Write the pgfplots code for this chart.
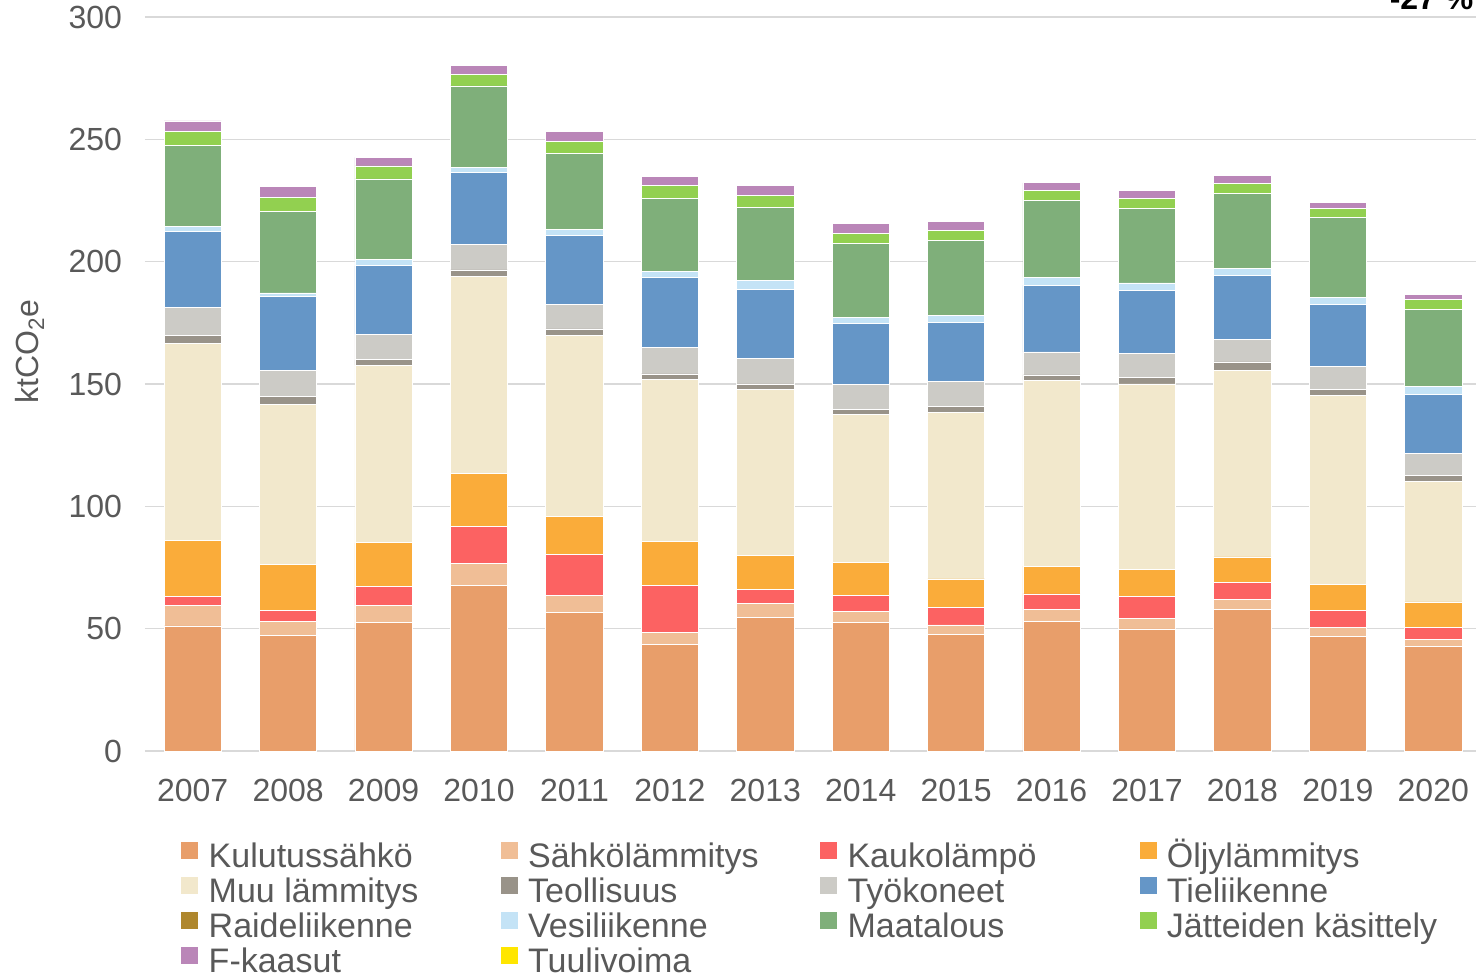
\documentclass[border=0pt]{standalone}
\usepackage{pgfplots}
\pgfplotsset{compat=1.18}
\usepackage{pgfplotstable}
\usepackage{fontspec}
\setmainfont{Liberation Sans}

\definecolor{kul}{HTML}{E89E6A}
\definecolor{sah}{HTML}{F0BE96}
\definecolor{kauko}{HTML}{FC6262}
\definecolor{oljy}{HTML}{FAAC3A}
\definecolor{muu}{HTML}{F2E8CC}
\definecolor{teol}{HTML}{999389}
\definecolor{tyok}{HTML}{CCCBC6}
\definecolor{tie}{HTML}{6596C7}
\definecolor{raide}{HTML}{AF872D}
\definecolor{vesi}{HTML}{C4E3F6}
\definecolor{maat}{HTML}{7FAF7A}
\definecolor{jatt}{HTML}{92D050}
\definecolor{fk}{HTML}{BA86B8}
\definecolor{tuuli}{HTML}{FFE600}
\definecolor{txt}{HTML}{595959}
\definecolor{grd}{HTML}{D9D9D9}

% ktCO2e per sector
\pgfplotstableread{
year kul  sah kauko oljy muu  teol tyok tie  vesi maat jatt fk
2007 51.1 8.3 3.7  23.0 80.5 3.3  11.4 31.2 1.8  33.1 5.7  4.4
2008 47.4 5.6 4.3  18.8 65.6 3.1  10.9 30.0 1.5  33.5 5.7  4.2
2009 52.6 6.8 7.7  18.0 72.6 2.2  10.4 28.0 2.5  33.0 5.3  3.5
2010 67.8 8.9 15.2 21.4 80.8 2.5  10.5 29.4 1.9  33.4 4.9  3.6
2011 56.7 6.8 16.9 15.6 73.7 2.8  9.9  28.3 2.5  31.2 4.9  4.1
2012 43.6 4.8 19.3 17.8 66.5 2.1  10.9 28.6 2.4  30.0 5.2  3.8
2013 54.6 5.7 5.9  13.6 68.0 2.2  10.3 28.4 3.7  29.9 4.6  4.3
2014 52.4 4.8 6.4  13.5 60.5 1.9  10.4 24.7 2.5  30.5 4.1  3.8
2015 47.8 3.7 7.3  11.5 68.1 2.6  9.9  24.3 3.0  30.5 4.1  3.7
2016 53.1 4.6 6.5  11.4 76.0 2.1  9.4  27.2 3.3  31.3 4.1  3.2
2017 49.9 4.2 9.0  11.0 75.9 2.6  9.9  25.8 3.0  30.3 4.2  3.3
2018 57.7 4.3 6.8  10.5 76.4 3.3  9.2  26.3 2.6  30.9 4.1  3.3
2019 46.7 3.8 6.8  10.9 77.0 2.6  9.5  25.2 3.0  32.6 3.5  2.6
2020 42.6 3.0 4.8  10.5 49.2 2.7  8.9  24.1 3.1  31.4 4.1  2.2
}\emissions

\newcommand{\lgent}[1]{\makebox[146pt][l]{#1}}

\begin{document}
\begin{tikzpicture}
\begin{axis}[
    width=668pt, height=367pt,
    scale only axis,
    ybar stacked,
    bar width=0.6,
    xmin=2006.5, xmax=2020.5,
    ymin=0, ymax=300,
    enlargelimits=false,
    xtick={2007,2008,...,2020},
    ytick={0,50,...,300},
    major tick length=0pt,
    axis line style={draw=none},
    ymajorgrids,
    grid style={grd, line width=0.8pt},
    /pgf/number format/assume math mode=true,
    xticklabel style={/pgf/number format/1000 sep={}, font=\fontsize{16}{19}\selectfont, text=txt, yshift=-10.5pt},
    yticklabel style={font=\fontsize{16}{19}\selectfont, text=txt, xshift=-8pt},
    ylabel={ktCO\textsubscript{2}e},
    every axis y label/.style={at={(rel axis cs:0,0.544)}, xshift=-57.5pt, rotate=90, anchor=center, font=\fontsize{16}{19}\selectfont, text=txt},
    every axis plot/.append style={draw=white, line width=0.4pt},
    clip=false,
    legend columns=4,
    legend cell align=left,
    legend image code/.code={\fill[#1,draw=none] (0pt,1.25pt) rectangle (8.5pt,9.75pt); \path (13.5pt,0pt);},
    legend style={at={(0.0269,-0.1235)}, anchor=north west, draw=none, fill=none, inner sep=0pt, row sep=0pt,
        nodes={inner sep=0pt, text height=10.5pt, text depth=5pt, font=\fontsize{17}{20}\selectfont, text=txt}},
]
\addplot[fill=kul]   table[x=year, y=kul]   {\emissions}; \addlegendentry{\lgent{Kulutussähkö}}
\addplot[fill=sah]   table[x=year, y=sah]   {\emissions}; \addlegendentry{\lgent{Sähkölämmitys}}
\addplot[fill=kauko] table[x=year, y=kauko] {\emissions}; \addlegendentry{\lgent{Kaukolämpö}}
\addplot[fill=oljy]  table[x=year, y=oljy]  {\emissions}; \addlegendentry{\lgent{Öljylämmitys}}
\addplot[fill=muu]   table[x=year, y=muu]   {\emissions}; \addlegendentry{\lgent{Muu lämmitys}}
\addplot[fill=teol]  table[x=year, y=teol]  {\emissions}; \addlegendentry{\lgent{Teollisuus}}
\addplot[fill=tyok]  table[x=year, y=tyok]  {\emissions}; \addlegendentry{\lgent{Työkoneet}}
\addplot[fill=tie]   table[x=year, y=tie]   {\emissions}; \addlegendentry{\lgent{Tieliikenne}}
\addlegendimage{fill=raide} \addlegendentry{\lgent{Raideliikenne}}
\addplot[fill=vesi]  table[x=year, y=vesi]  {\emissions}; \addlegendentry{\lgent{Vesiliikenne}}
\addplot[fill=maat]  table[x=year, y=maat]  {\emissions}; \addlegendentry{\lgent{Maatalous}}
\addplot[fill=jatt]  table[x=year, y=jatt]  {\emissions}; \addlegendentry{\lgent{Jätteiden käsittely}}
\addplot[fill=fk]    table[x=year, y=fk]    {\emissions}; \addlegendentry{\lgent{F-kaasut}}
\addlegendimage{fill=tuuli} \addlegendentry{\lgent{Tuulivoima}}

% change label, partly cut off at the top like in the source image
\node[anchor=base west, fill=white, inner sep=0pt, inner xsep=10pt, font=\fontsize{16}{19}\selectfont\bfseries]
    at (axis cs:2019.33,303.2) {-27 \%};
\end{axis}
\pgfresetboundingbox
\path[use as bounding box] (-72.5pt,-111pt) rectangle (665.5pt,375.5pt);
\end{tikzpicture}
\end{document}
